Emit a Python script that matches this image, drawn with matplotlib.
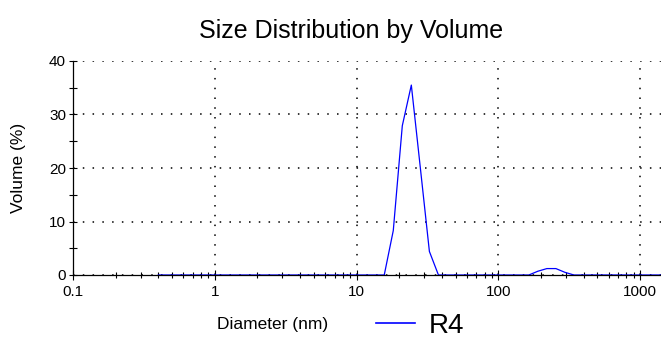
import numpy as np
import matplotlib.pyplot as plt
from matplotlib.lines import Line2D

plt.rcParams['font.family'] = ['Liberation Sans', 'DejaVu Sans']

# Zetasizer size classes (nm)
diameter = [0.4, 0.4632, 0.5365, 0.6213, 0.7195, 0.8332, 0.9649, 1.117, 1.294, 1.499,
            1.736, 2.010, 2.328, 2.696, 3.122, 3.615, 4.187, 4.849, 5.615, 6.503,
            7.531, 8.721, 10.10, 11.70, 13.54, 15.69, 18.17, 21.04, 24.36, 28.21,
            32.67, 37.84, 43.82, 50.75, 58.77, 68.06, 78.82, 91.28, 105.7, 122.4,
            141.8, 164.2, 190.1, 220.2, 255.0, 295.3, 342.0, 396.1, 458.7, 531.2,
            615.1, 712.4, 825.0, 955.4, 1106, 1281, 1484, 1718, 1990, 2305,
            2669, 3091, 3580, 4145, 4801, 5560, 6439, 7456, 8635, 10000]
volume_r4 = [0] * 26 + [8.3, 27.9, 35.5, 20.0, 4.4] + [0] * 11 + \
            [0.7, 1.2, 1.2, 0.5] + [0] * 24

x_ticks = [0.1, 1, 10, 100, 1000]
x_labels = ['0.1', '1', '10', '100', '1000']
y_ticks = [0, 10, 20, 30, 40]

fig = plt.figure(figsize=(6.61, 3.44), dpi=100)
ax = fig.add_axes([73 / 661, 69 / 344, 588 / 661, 214 / 344])

ax.plot(diameter, volume_r4, color='#0000ff', lw=0.9, label='R4')

ax.set_xscale('log')
ax.set_xlim(0.1, 10 ** 3.148)
ax.set_ylim(0, 40)
ax.set_xticks(x_ticks)
ax.set_xticklabels(x_labels)
ax.set_yticks(y_ticks)
ax.set_yticks([5, 15, 25, 35], minor=True)

for s in ['top', 'right']:
    ax.spines[s].set_visible(False)
for s in ['left', 'bottom']:
    ax.spines[s].set_linewidth(0.9)

ax.tick_params(axis='x', which='major', direction='inout', length=7, width=0.8,
               labelsize=11, pad=4)
ax.tick_params(axis='x', which='minor', direction='inout', length=4.5, width=0.8,
               labelbottom=False)
ax.tick_params(axis='y', which='both', direction='inout', length=6, width=0.8,
               labelsize=11, pad=2)

ax.grid(True, which='major', color='black', lw=1.1, linestyle=(0, (1, 5.4)))

ax.set_ylabel('Volume (%)', fontsize=12.5)
ax.yaxis.set_label_coords(-0.08, 0.5)

fig.text(351 / 661, 1 - 31 / 344, 'Size Distribution by Volume', fontsize=18,
         ha='center', va='center')
fig.text(273 / 661, 1 - 325 / 344, 'Diameter (nm)', fontsize=12.5,
         ha='center', va='center')

handle = Line2D([], [], color='#0000ff', lw=1.2)
fig.legend([handle], ['R4'], loc='center', bbox_to_anchor=(420 / 661, 1 - 326 / 344),
           frameon=False, fontsize=20, handlelength=1.4, handletextpad=0.5,
           borderpad=0, borderaxespad=0)

fig.savefig('out.png', dpi=100)
